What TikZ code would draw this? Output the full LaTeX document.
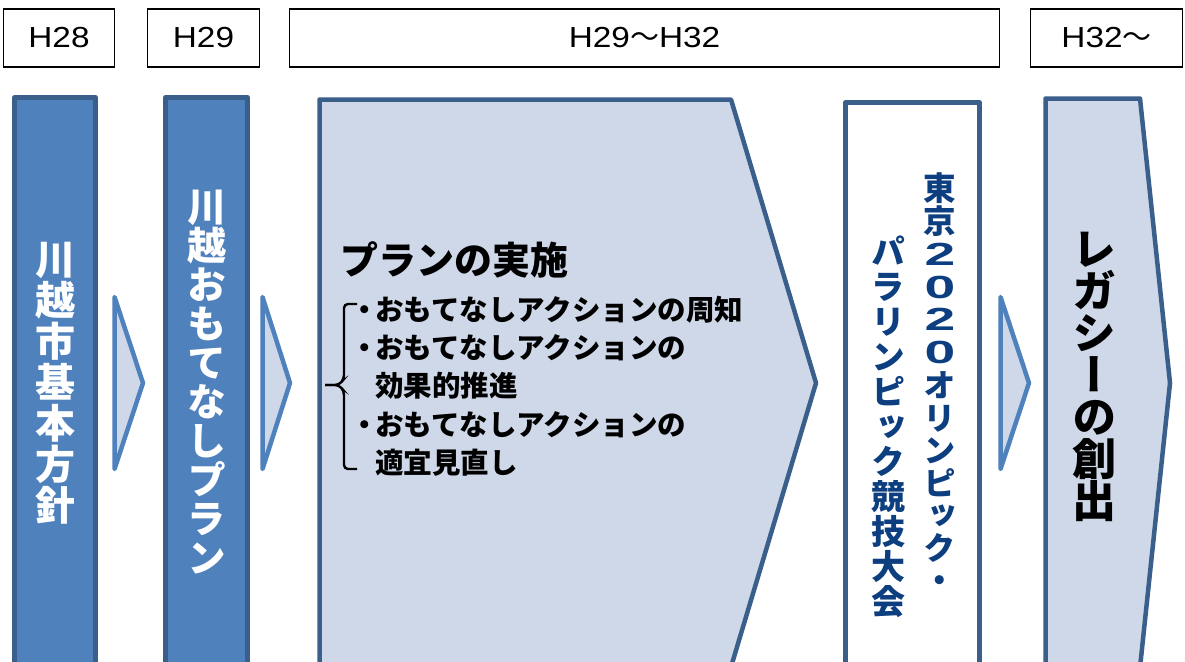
\documentclass[tikz,border=0pt]{standalone}
\usepackage{graphicx}
\usepackage{fontspec}
\newfontfamily\jp{Noto Sans CJK JP}
\newfontfamily\jpv{Noto Sans CJK JP}[RawFeature=+vert]
\newfontfamily\lat{Liberation Sans}[FakeStretch=1.15]
\newcommand{\wdig}[1]{\scalebox{1.5}[1]{\lat\bfseries\fontsize{32}{32.5}\selectfont #1}}
\definecolor{bfill}{HTML}{4F81BD}
\definecolor{bdark}{HTML}{3A5F8B}
\definecolor{lfill}{HTML}{CFD8E8}
\definecolor{navy}{HTML}{0D3F80}
\tikzset{
  yearbox/.style={draw=black, line width=1.3pt, fill=white, inner sep=0pt,
    font=\lat\fontsize{29}{32}\selectfont},
  darkbar/.style={draw=bdark, fill=bfill, line width=4.5pt, line join=round},
  lightshape/.style={draw=bdark, fill=lfill, line width=4.5pt, line join=round},
  whiteshape/.style={draw=bdark, fill=white, line width=4.5pt, line join=round},
  chev/.style={draw=bfill, fill=lfill, line width=4.5pt, line join=round},
  vtext/.style={align=center, inner sep=0pt},
  brk/.style={draw=black, line width=2.4pt, rounded corners=4pt},
}
\begin{document}
\begin{tikzpicture}[x=1pt, y=-1pt]
\useasboundingbox (0,0) rectangle (1185,661);
\clip (0,0) rectangle (1185,661);
\fill[white] (0,0) rectangle (1185,661);

% year boxes
\node[yearbox, minimum width=111pt, minimum height=58pt] (y28) at (59,38) {H28};
\node[yearbox, minimum width=112pt, minimum height=58pt] (y29) at (203.5,38) {H29};
\node[yearbox, minimum width=710pt, minimum height=58pt] (y2932) at (644.5,38) {H29{\jp ～}H32};
\node[yearbox, minimum width=152pt, minimum height=58pt] (y32) at (1106.5,38) {H32{\jp ～}};

% shapes
\draw[darkbar] (14.5,97.5) rectangle (95.5,690);
\draw[darkbar] (165.5,97.5) rectangle (247.5,690);
\draw[lightshape] (319.5,99.5) -- (731,99.5) -- (816,383) -- (731,667) -- (319.5,667) -- cycle;
\draw[whiteshape] (845.5,102.5) rectangle (979.5,690);
\draw[lightshape] (1045.5,98.5) -- (1140,98.5) -- (1170,383) -- (1140,667.5) -- (1045.5,667.5) -- cycle;

% chevrons
\draw[chev] (114.5,297) -- (143,383) -- (114.5,469) -- cycle;
\draw[chev] (262.5,297) -- (290,383) -- (262.5,469) -- cycle;
\draw[chev] (1000.5,297) -- (1029,383) -- (1000.5,469) -- cycle;

% vertical texts
\node[vtext, text=white, font=\jpv\bfseries\fontsize{40}{41}\selectfont] (t1) at (55,383)
  {川\\越\\市\\基\\本\\方\\針};
\node[vtext, text=white, font=\jpv\bfseries\fontsize{39}{39}\selectfont] (t2) at (207,382)
  {川\\越\\お\\も\\て\\な\\し\\プ\\ラ\\ン};
\node[vtext, text=navy, font=\jpv\bfseries\fontsize{32.5}{32.5}\selectfont] (t3a) at (940,383)
  {東\\京\\\wdig{2}\\\wdig{0}\\\wdig{2}\\\wdig{0}\\[2pt]オ\\リ\\ン\\ピ\\ッ\\ク\\・};
\node[vtext, text=navy, font=\jpv\bfseries\fontsize{34}{35}\selectfont] (t3b) at (888,427)
  {パ\\ラ\\リ\\ン\\ピ\\ッ\\ク\\競\\技\\大\\会};
\node[vtext, text=black, font=\jpv\bfseries\fontsize{44}{42}\selectfont] (t4) at (1094,377)
  {レ\\ガ\\シ\\ー\\の\\創\\出};

% plan text
\node[anchor=west, inner sep=0pt, font=\jp\bfseries\fontsize{38}{40}\selectfont] (title) at (340,260) {プランの実施};
\node[anchor=west, inner sep=0pt, align=left, font=\jp\bfseries\fontsize{28.5}{38.3}\selectfont] (list) at (350,386)
  {\makebox[25pt][l]{・}おもてなしアクションの周知\\
   \makebox[25pt][l]{・}おもてなしアクションの\\
   \hspace*{25pt}効果的推進\\
   \makebox[25pt][l]{・}おもてなしアクションの\\
   \hspace*{25pt}適宜見直し};
\coordinate (bt) at (357,304);
\coordinate (bm) at (325,385);
\coordinate (bb) at (357,469);
\draw[brk] (bt) -- (344,304) -- (344,379) -- (339,385) -- (bm);
\draw[brk] (bm) -- (339,385) -- (344,391) -- (344,469) -- (bb);
\end{tikzpicture}
\end{document}
